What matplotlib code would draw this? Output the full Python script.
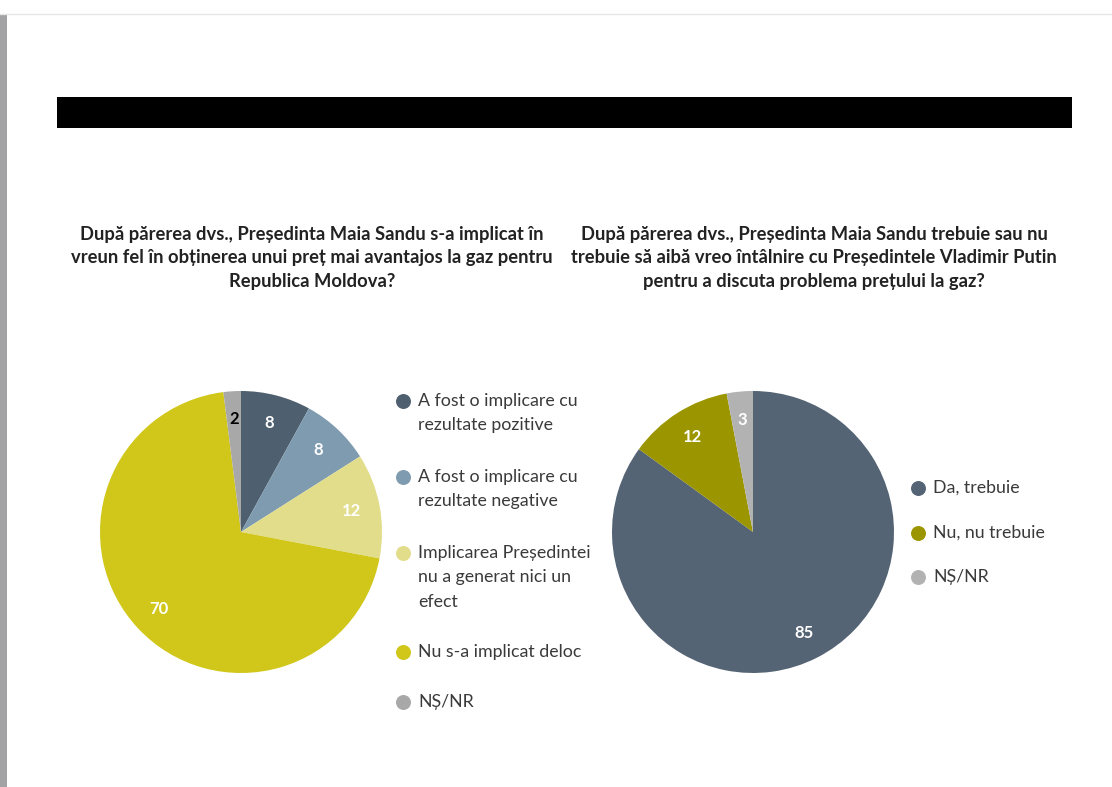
import matplotlib
matplotlib.use("Agg")
import matplotlib.pyplot as plt
from matplotlib.patches import Rectangle

plt.rcParams['font.family'] = ['Lato', 'DejaVu Sans']

# ---- data ----
left_title = ("După părerea dvs., Președinta Maia Sandu s-a implicat în\n"
              "vreun fel în obținerea unui preț mai avantajos la gaz pentru\n"
              "Republica Moldova?")
left_labels = ["A fost o implicare cu\nrezultate pozitive",
               "A fost o implicare cu\nrezultate negative",
               "Implicarea Președintei\nnu a generat nici un\nefect",
               "Nu s-a implicat deloc",
               "NȘ/NR"]
left_values = [8, 8, 12, 70, 2]
left_colors = ["#4e5f6f", "#7f9bb0", "#e2dd8a", "#d0c71a", "#a8a8a8"]
left_text_colors = ["white", "white", "white", "white", "black"]

right_title = ("După părerea dvs., Președinta Maia Sandu trebuie sau nu\n"
               "trebuie să aibă vreo întâlnire cu Președintele Vladimir Putin\n"
               "pentru a discuta problema prețului la gaz?")
right_labels = ["Da, trebuie", "Nu, nu trebuie", "NȘ/NR"]
right_values = [85, 12, 3]
right_colors = ["#556475", "#9b9500", "#b2b2b2"]
right_text_colors = ["white", "white", "white"]

W, H = 1112, 787
fig = plt.figure(figsize=(W / 100, H / 100), dpi=100)
fig.patch.set_facecolor("white")

# overlay axes in pixel coordinates
ov = fig.add_axes([0, 0, 1, 1])
ov.set_xlim(0, W)
ov.set_ylim(H, 0)
ov.axis("off")

ov.add_patch(Rectangle((0, 15), 7, H - 15, color="#a3a3a5", lw=0))
ov.plot([0, W], [14, 14], color="#e6e6e6", lw=1)
ov.add_patch(Rectangle((57, 97), 1015, 31, color="black", lw=0))

ov.text(312, 258, left_title, ha="center", va="center", fontsize=13.2,
        fontweight="bold", color="#222222", linespacing=1.48)
ov.text(814, 258, right_title, ha="center", va="center", fontsize=13.2,
        fontweight="bold", color="#222222", linespacing=1.48)


def make_pie(cx, cy, r, values, colors, tcolors):
    ax = fig.add_axes([(cx - r) / W, (H - cy - r) / H, 2 * r / W, 2 * r / H])
    wedges, texts, autotexts = ax.pie(
        values, colors=colors, startangle=90, counterclock=False,
        autopct=lambda p: f"{p:.0f}", pctdistance=0.8, radius=1,
        wedgeprops=dict(linewidth=0),
        textprops=dict(fontsize=12, fontweight="bold"))
    for t, c in zip(autotexts, tcolors):
        t.set_color(c)
    ax.set_xlim(-1, 1)
    ax.set_ylim(-1, 1)
    ax.set_aspect("equal")
    ax.axis("off")


make_pie(241, 532, 141, left_values, left_colors, left_text_colors)
make_pie(753, 532, 141, right_values, right_colors, right_text_colors)

# legends
left_y = [401, 477, 553, 652, 702]
for lab, c, y in zip(left_labels, left_colors, left_y):
    ov.scatter([403], [y], s=95, color=c, zorder=3)
    ov.text(418, y - 8, lab, ha="left", va="top", fontsize=12.8,
            color="#3a3a3a", linespacing=1.65)

right_y = [488, 533, 577]
for lab, c, y in zip(right_labels, right_colors, right_y):
    ov.scatter([918], [y], s=95, color=c, zorder=3)
    ov.text(933, y, lab, ha="left", va="center", fontsize=12.8,
            color="#3a3a3a")

fig.savefig("out.png", dpi=100, facecolor="white")
